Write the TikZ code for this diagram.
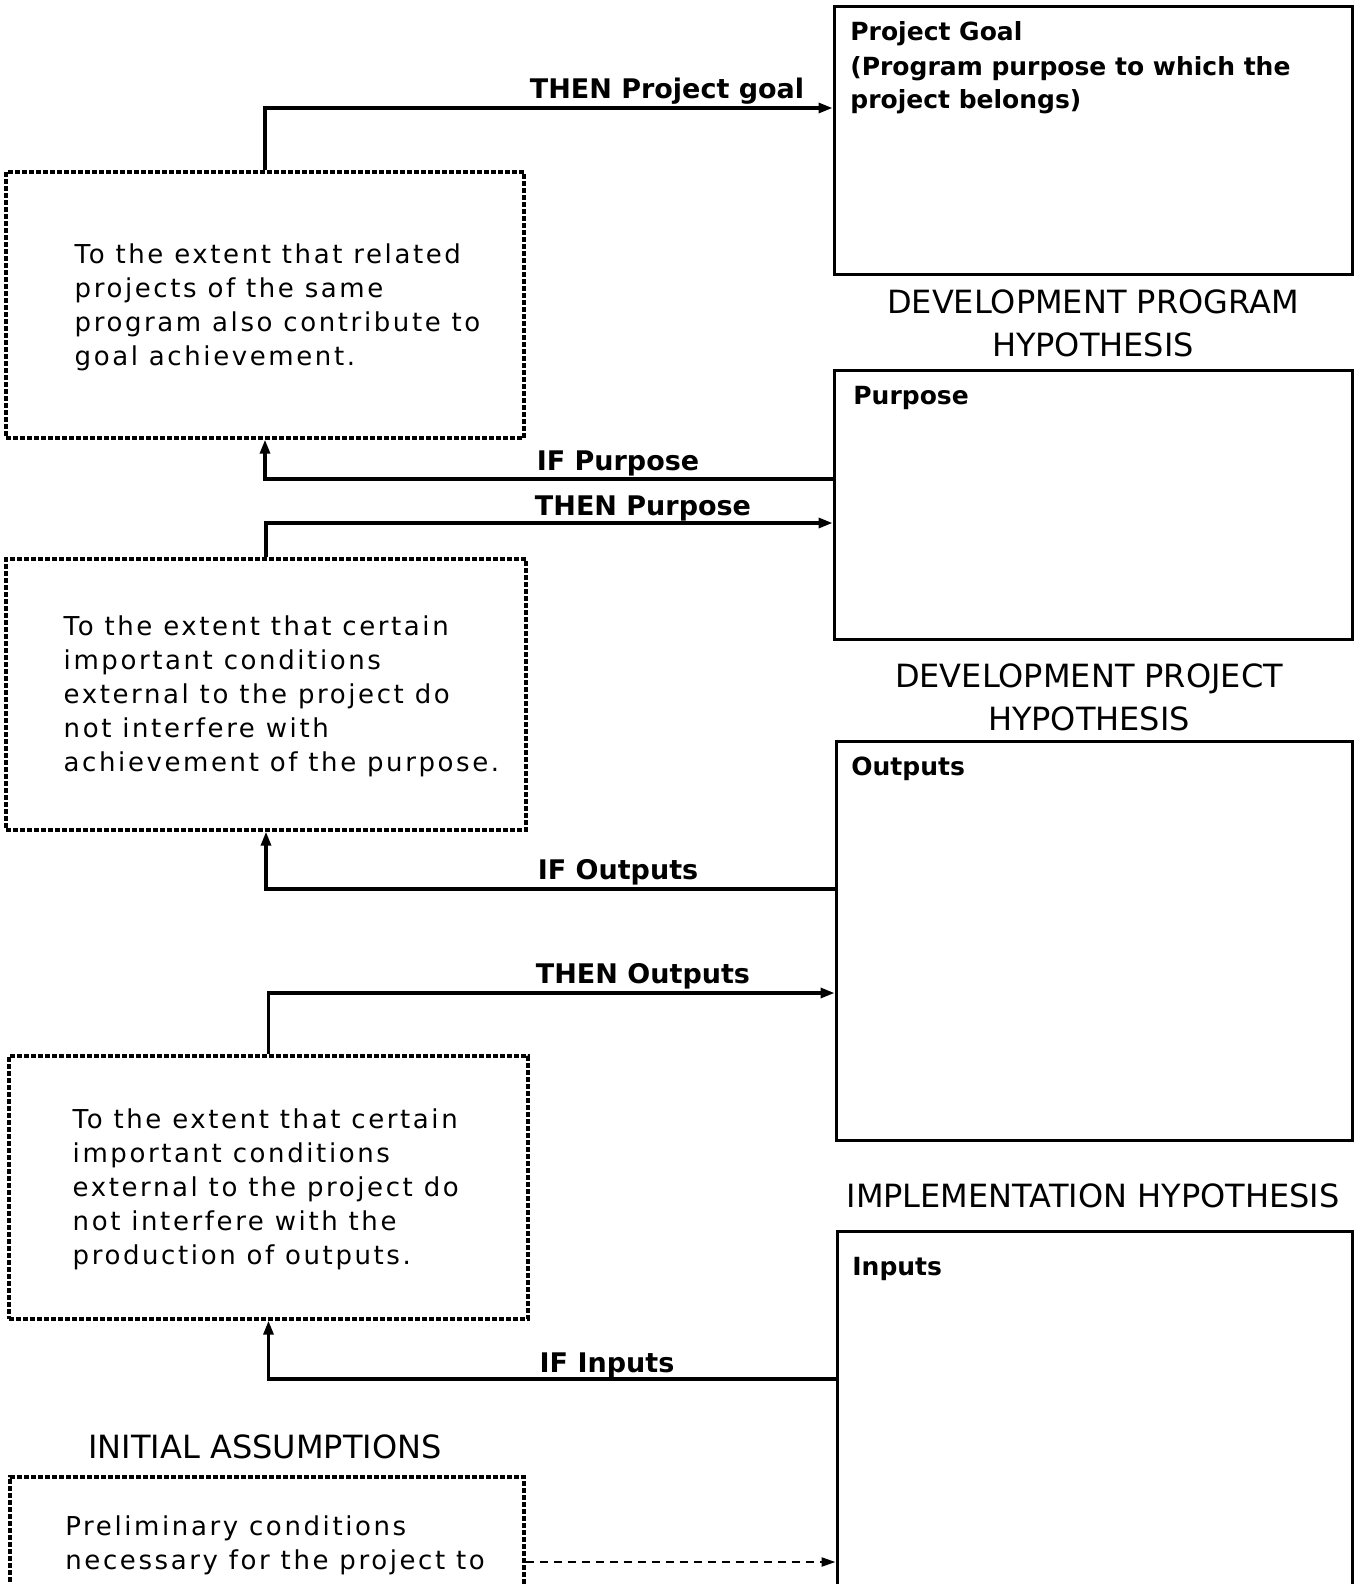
\documentclass[tikz,border=0pt]{standalone}
\usepackage{fontspec}
\setmainfont{DejaVu Sans}
\newfontfamily\spacedfont[LetterSpace=10]{DejaVu Sans}
\usetikzlibrary{arrows.meta,calc}

\begin{document}
\begin{tikzpicture}[
  x=0.5pt,y=-0.5pt,
  level/.style={draw=black,line width=1.5pt,inner sep=0pt},
  leveltext/.style={anchor=base west,align=left,inner sep=0pt,font=\bfseries\fontsize{12.5}{17}\selectfont},
  cond/.style={draw=black,line width=1.7pt,dash pattern=on 2.5pt off 1pt,inner sep=0pt},
  condtext/.style={anchor=west,align=left,inner sep=0pt,font=\spacedfont\fontsize{13}{17}\selectfont},
  heading/.style={anchor=base,align=center,inner sep=0pt,font=\fontsize{16}{21.5}\selectfont},
  arrowlabel/.style={anchor=base,inner sep=0pt,font=\bfseries\fontsize{13.5}{16}\selectfont},
  arrow/.style={-{Triangle[length=7pt,width=5pt]},line width=1.6pt},
  dasharrow/.style={-{Triangle[length=7pt,width=4.5pt]},line width=1.1pt,dash pattern=on 4pt off 3pt}
]
\useasboundingbox (0,0) rectangle (1355,1584);
\clip (0,0) rectangle (1355,1584);

% right column: the hierarchy of objectives
\node[level,minimum width=259pt,minimum height=133.5pt] (goal) at (1093,140.5) {};
\node[leveltext] (goaltext) at (850,109) {Project Goal\\(Program purpose to which the\\project belongs)};
\node[level,minimum width=259pt,minimum height=134.5pt] (purpose) at (1093,504.5) {};
\node[leveltext] (purposetext) at (853,404) {Purpose};
\node[level,minimum width=258pt,minimum height=199.5pt] (outputs) at (1094,940.5) {};
\node[leveltext] (outputstext) at (851,775) {Outputs};
\node[level,minimum width=257.5pt,minimum height=234.5pt] (inputs) at (1094.5,1465.5) {};
\node[leveltext] (inputstext) at (852,1275) {Inputs};

\node[heading] (proghyp) at (1093,356) {DEVELOPMENT PROGRAM\\HYPOTHESIS};
\node[heading] (projhyp) at (1089,730) {DEVELOPMENT PROJECT\\HYPOTHESIS};
\node[heading] (implhyp) at (1093,1207) {IMPLEMENTATION HYPOTHESIS};

% left column: assumptions
\node[cond,minimum width=259pt,minimum height=133pt] (cond1) at (265,305) {};
\node[condtext] (cond1text) at ([xshift=35pt,yshift=-1pt]cond1.west) {To the extent that related\\projects of the same\\program also contribute to\\goal achievement.};
\node[cond,minimum width=260pt,minimum height=135.5pt] (cond2) at (266,694.5) {};
\node[condtext] (cond2text) at ([xshift=29.5pt,yshift=-1pt]cond2.west) {To the extent that certain\\important conditions\\external to the project do\\not interfere with\\achievement of the purpose.};
\node[cond,minimum width=259.5pt,minimum height=131.5pt] (cond3) at (268.5,1187.5) {};
\node[condtext] (cond3text) at ([xshift=32.5pt,yshift=-1pt]cond3.west) {To the extent that certain\\important conditions\\external to the project do\\not interfere with the\\production of outputs.};
\node[heading] (initial) at (265,1458) {INITIAL ASSUMPTIONS};
\node[cond,minimum width=257pt,minimum height=111.5pt] (cond4) at (267,1588.5) {};
\node[condtext,anchor=base west] (cond4text) at (65,1569) {Preliminary conditions\\necessary for the project to};

% links
\coordinate (goalin) at (goal.west |- 0,108);
\coordinate (purposeout) at (purpose.west |- 0,479);
\coordinate (purposein) at (purpose.west |- 0,523);
\coordinate (outputsout) at (outputs.west |- 0,889);
\coordinate (outputsin) at (outputs.west |- 0,993);
\coordinate (inputsout) at (inputs.west |- 0,1379);
\coordinate (inputsin) at (inputs.west |- 0,1562);

\draw[arrow] (cond1.north) |- (goalin);
\draw[arrow] (purposeout) -| (cond1.south);
\draw[arrow] (cond2.north) |- (purposein);
\draw[arrow] (outputsout) -| (cond2.south);
\draw[arrow] (cond3.north) |- (outputsin);
\draw[arrow] (inputsout) -| (cond3.south);
\draw[dasharrow] (cond4.east |- inputsin) -- (inputsin);

\node[arrowlabel] (thengoal) at (667,98) {THEN Project goal};
\node[arrowlabel] (ifpurpose) at (618,470) {IF Purpose};
\node[arrowlabel] (thenpurpose) at (643,515) {THEN Purpose};
\node[arrowlabel] (ifoutputs) at (618,879) {IF Outputs};
\node[arrowlabel] (thenoutputs) at (643,983) {THEN Outputs};
\node[arrowlabel] (ifinputs) at (607,1372) {IF Inputs};
\end{tikzpicture}
\end{document}
